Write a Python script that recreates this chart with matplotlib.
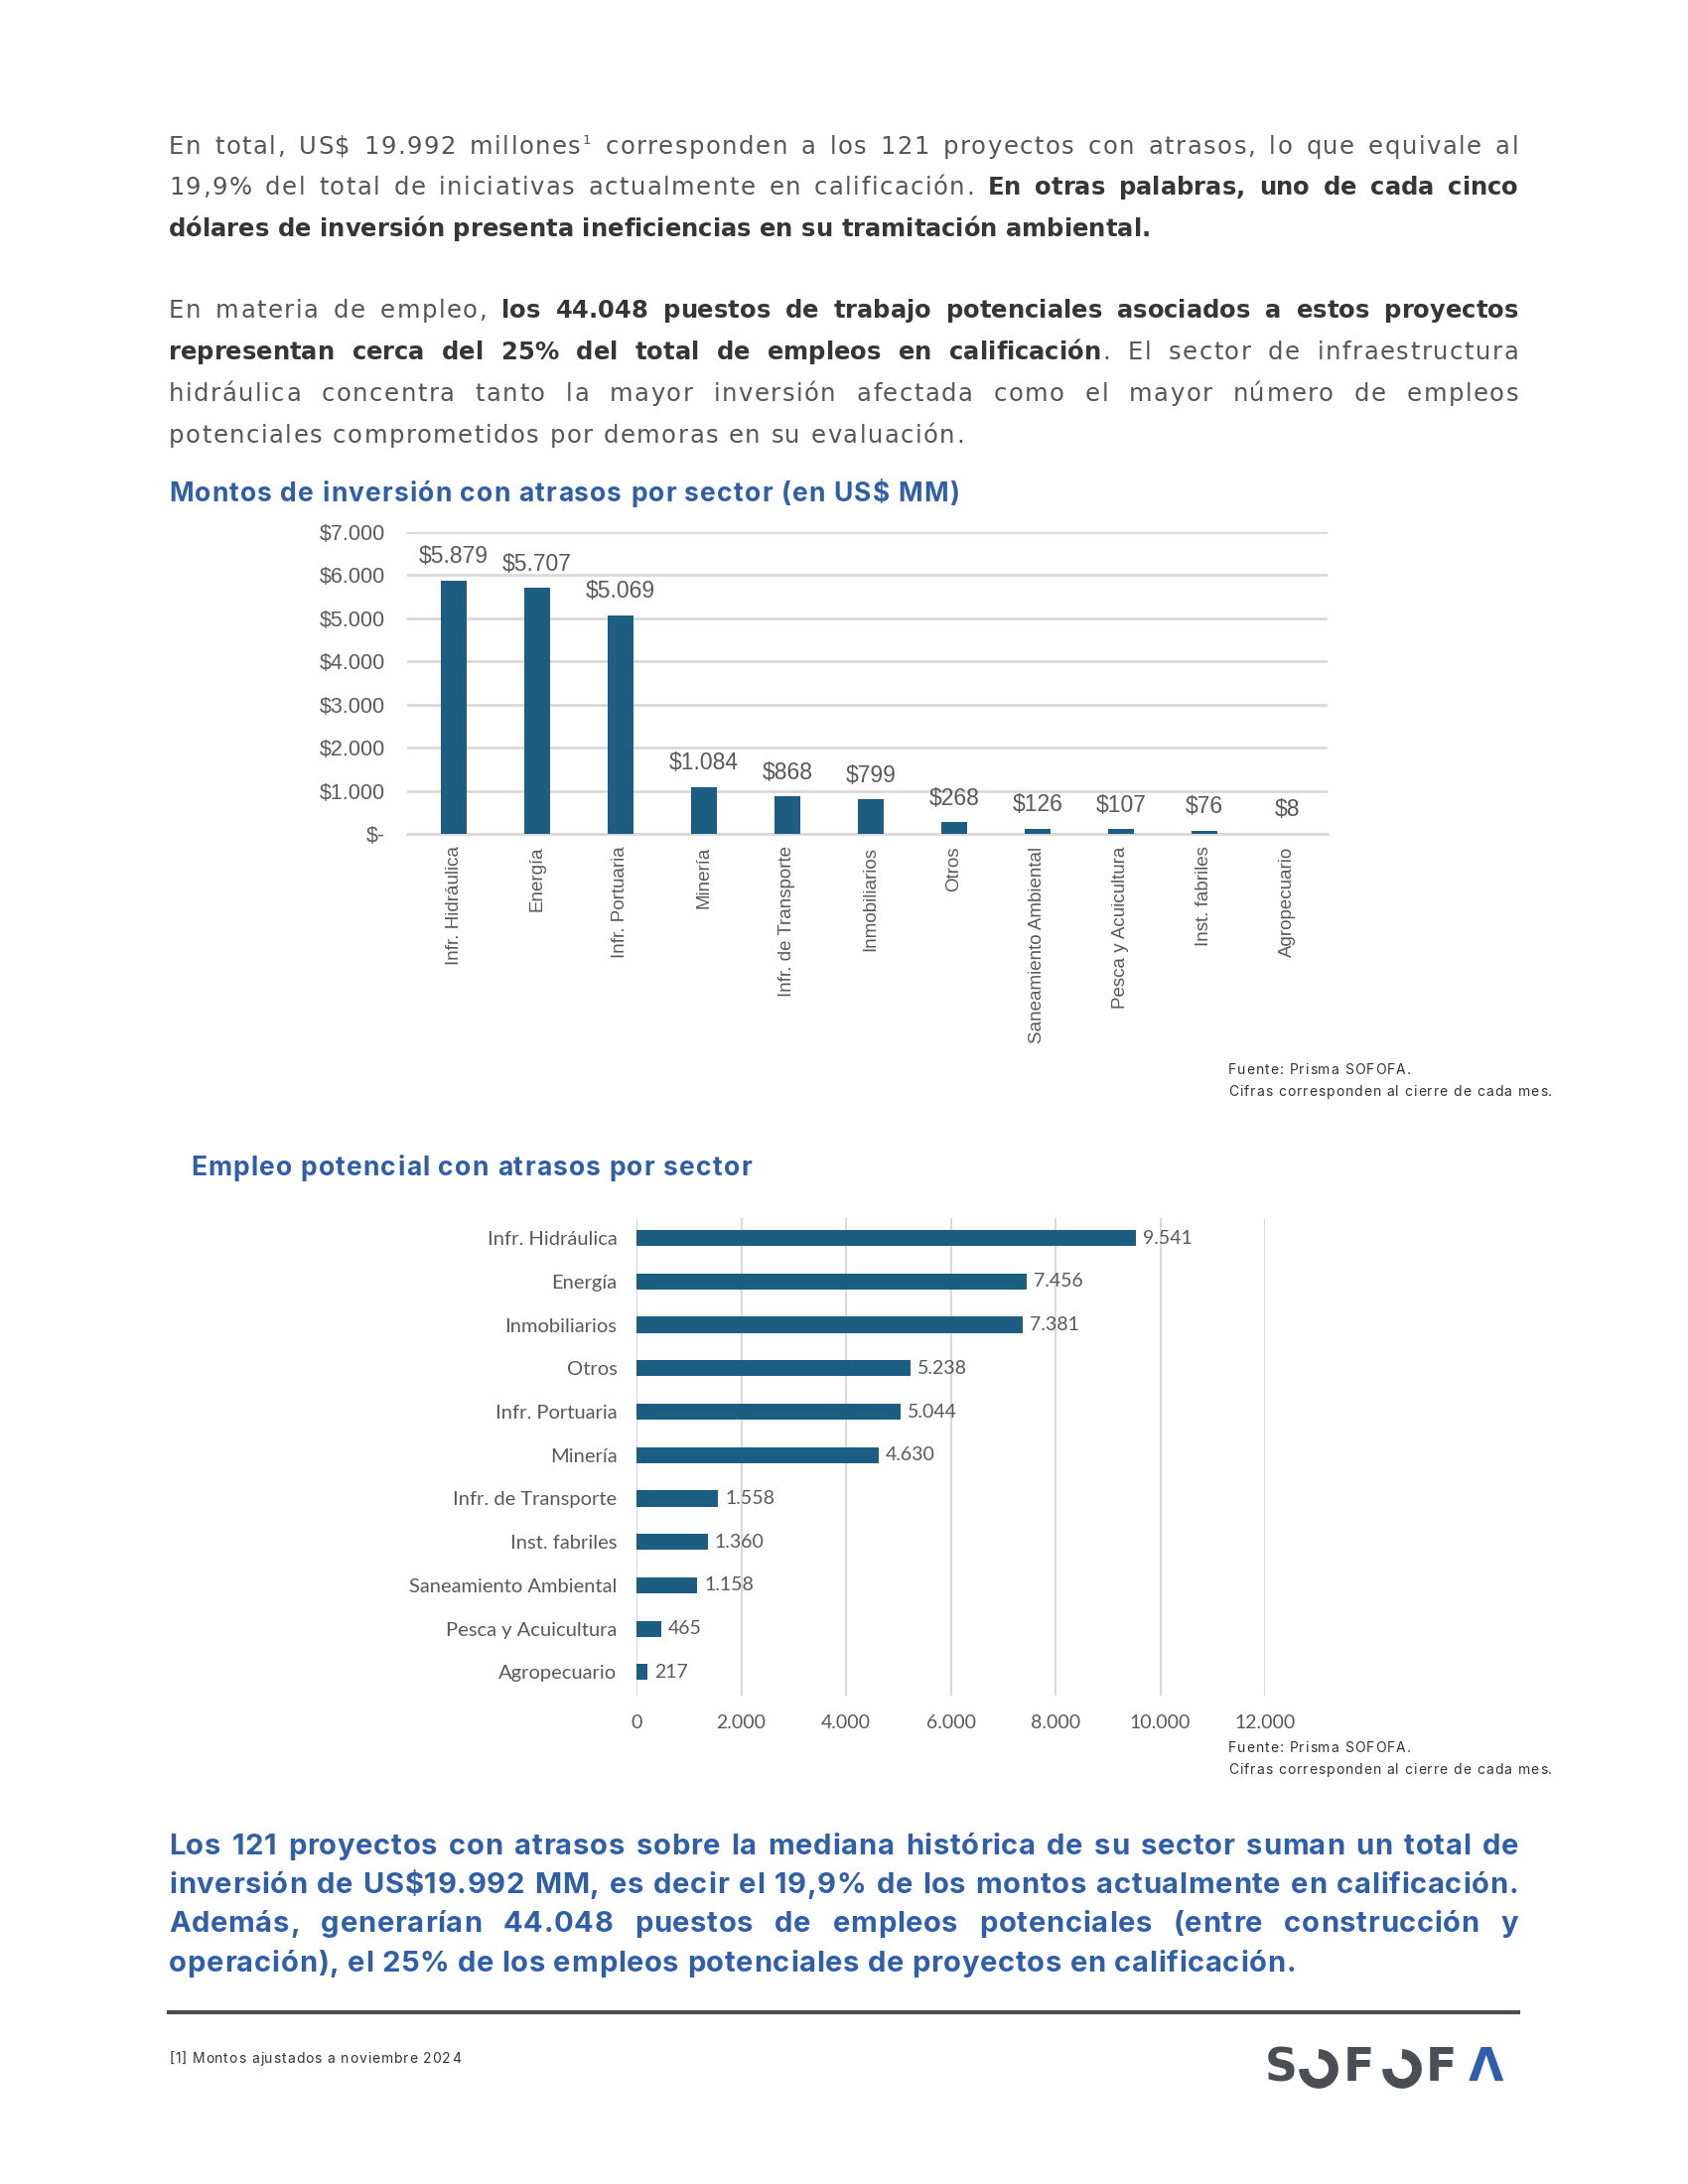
import matplotlib
matplotlib.use("Agg")
import matplotlib.pyplot as plt
from matplotlib.patches import Arc
from matplotlib.font_manager import FontProperties
from matplotlib.ticker import MultipleLocator, FuncFormatter

plt.rcParams['text.parse_math'] = False

W, H = 1700, 2200

# datos grafico 1: montos de inversion (US$ MM)
sectores_inv = ['Infr. Hidráulica', 'Energía', 'Infr. Portuaria', 'Minería',
                'Infr. de Transporte', 'Inmobiliarios', 'Otros',
                'Saneamiento Ambiental', 'Pesca y Acuicultura',
                'Inst. fabriles', 'Agropecuario']
montos_inv = [5879, 5707, 5069, 1084, 868, 799, 268, 126, 107, 76, 8]

# datos grafico 2: empleo potencial
sectores_emp = ['Infr. Hidráulica', 'Energía', 'Inmobiliarios', 'Otros',
                'Infr. Portuaria', 'Minería', 'Infr. de Transporte',
                'Inst. fabriles', 'Saneamiento Ambiental',
                'Pesca y Acuicultura', 'Agropecuario']
empleos = [9541, 7456, 7381, 5238, 5044, 4630, 1558, 1360, 1158, 465, 217]

# textos
parrafo1 = [
    [("En total, US$ 19.992 millones", 'n'), ("1", 'sup'),
     (" corresponden a los 121 proyectos con atrasos, lo que equivale al", 'n')],
    [("19,9% del total de iniciativas actualmente en calificación. ", 'n'),
     ("En otras palabras, uno de cada cinco", 'b')],
    [("dólares de inversión presenta ineficiencias en su tramitación ambiental.", 'b')],
]
parrafo2 = [
    [("En materia de empleo, ", 'n'),
     ("los 44.048 puestos de trabajo potenciales asociados a estos proyectos", 'b')],
    [("representan cerca del 25% del total de empleos en calificación", 'b'),
     (". El sector de infraestructura", 'n')],
    [("hidráulica concentra tanto la mayor inversión afectada como el mayor número de empleos", 'n')],
    [("potenciales comprometidos por demoras en su evaluación.", 'n')],
]
cierre = [
    [("Los 121 proyectos con atrasos sobre la mediana histórica de su sector suman un total de", 'b')],
    [("inversión de US$19.992 MM, es decir el 19,9% de los montos actualmente en calificación.", 'b')],
    [("Además, generarían 44.048 puestos de empleos potenciales (entre construcción y", 'b')],
    [("operación), el 25% de los empleos potenciales de proyectos en calificación.", 'b')],
]
titulo1 = 'Montos de inversión con atrasos por sector (en US$ MM)'
titulo2 = 'Empleo potencial con atrasos por sector'
fuente = ['Fuente: Prisma SOFOFA.', 'Cifras corresponden al cierre de cada mes.']
nota = '[1] Montos ajustados a noviembre 2024'

AZUL = '#2f5eaa'
BARRA = '#1b5e82'
GRIS = '#595959'
CUERPO = 'DejaVu Sans'
TITULOS = 'Inter'

fig = plt.figure(figsize=(17, 22), dpi=100)
renderer = fig.canvas.get_renderer()


def fx(x):
    return x / W


def fy(y):
    return 1 - y / H


def prop(size, bold=False, family=CUERPO):
    return FontProperties(family=family, size=size,
                          weight='bold' if bold else 'normal')


def ancho(s, p):
    return renderer.get_text_width_height_descent(s, p, ismath=False)[0]


def trazar(x, base, s, p, color, track):
    # letra a letra, con espacio extra entre letras
    for i, c in enumerate(s):
        if c == ' ':
            continue
        xi = ancho(s[:i + 1], p) - ancho(c, p) + i * track
        fig.text(fx(x + xi), fy(base), c, fontproperties=p, color=color,
                 va='baseline', ha='left')
    return ancho(s, p) + (len(s) - 1) * track


def base_de(yc, size):
    return yc + 0.37 * size * 100 / 72


def palabras(segs):
    out = []
    pegar = False
    for txt, st in segs:
        if st == 'sup':
            out[-1].append((txt, st))
            pegar = True
            continue
        for j, p in enumerate(txt.split(' ')):
            if p == '':
                continue
            if j == 0 and pegar and out:
                out[-1].append((p, st))
            else:
                out.append([(p, st)])
        pegar = not txt.endswith(' ')
    return out


def linea(segs, yc, size, colores, tracks, family, justificar,
          x0=170, x1=1529):
    em = size * 100 / 72
    base = base_de(yc, size)
    items = []
    for pal in palabras(segs):
        piezas = []
        w = 0
        for p, st in pal:
            if st == 'sup':
                fp = prop(size * 0.55, family=family)
                piezas.append((p, fp, colores['n'], 0, w + 2, base - 0.42 * em))
                w += 2 + ancho(p, fp)
            else:
                fp = prop(size, st == 'b', family)
                t = tracks[st]
                if w > 0:
                    w += t
                piezas.append((p, fp, colores[st], t, w, base))
                w += ancho(p, fp) + (len(p) - 1) * t
        items.append((piezas, w))
    total = sum(w for _, w in items)
    if justificar and len(items) > 1:
        gap = (x1 - x0 - total) / (len(items) - 1)
    else:
        fp = prop(size, segs[0][1] == 'b', family)
        gap = ancho('n n', fp) - ancho('nn', fp) + 2 * tracks[segs[0][1]]
    x = x0
    for piezas, w in items:
        for p, fp, col, t, off, b in piezas:
            trazar(x + off, b, p, fp, col, t)
        x += w + gap


def parrafo(lineas, y0, paso, size, colores, tracks, family):
    for k, segs in enumerate(lineas):
        linea(segs, y0 + k * paso, size, colores, tracks, family,
              k < len(lineas) - 1)


cuerpo_col = {'n': '#555555', 'b': '#363636'}
cuerpo_trk = {'n': 1.5, 'b': 0.0}
parrafo(parrafo1, 146, 41.5, 17.5, cuerpo_col, cuerpo_trk, CUERPO)
parrafo(parrafo2, 311, 42.1, 17.5, cuerpo_col, cuerpo_trk, CUERPO)

# ---- grafico 1
trazar(170, base_de(495, 19), titulo1, prop(19, True, TITULOS), AZUL, 1.2)

ax1 = fig.add_axes([fx(410), fy(840), (1337 - 410) / W, (840 - 536) / H])
x = list(range(len(montos_inv)))
ax1.bar(x, montos_inv, width=0.31, color=BARRA, zorder=3)
ax1.set_xlim(-0.56, 10.48)
ax1.set_ylim(0, 7000)
ax1.yaxis.set_major_locator(MultipleLocator(1000))
ax1.yaxis.set_major_formatter(FuncFormatter(
    lambda v, p: '$-' if v == 0 else '$' + f'{v:,.0f}'.replace(',', '.')))
ax1.grid(axis='y', color='#d9d9d9', lw=2, zorder=0)
for s in ['top', 'right', 'left']:
    ax1.spines[s].set_visible(False)
ax1.spines['bottom'].set_color('#d9d9d9')
ax1.spines['bottom'].set_linewidth(2)
ax1.set_xticks(x)
ax1.set_xticklabels(sectores_inv, rotation=90, va='top', ha='center',
                    family='Liberation Sans', fontsize=13.5, color=GRIS)
ax1.tick_params(axis='x', length=0, pad=9)
ax1.tick_params(axis='y', length=0, pad=16, labelsize=15.5, labelcolor=GRIS)
for lab in ax1.get_yticklabels():
    lab.set_family('Liberation Sans')
for i, v in enumerate(montos_inv):
    ax1.annotate('$' + f'{v:,}'.replace(',', '.'), (i, v), xytext=(0, 9),
                 textcoords='offset points', ha='center', va='bottom',
                 fontsize=16.5, color=GRIS, family='Liberation Sans')

for k, txt in enumerate(fuente):
    trazar(1237, base_de(1076 + 22 * k, 10) + 1, txt, prop(10, family=TITULOS),
           '#333333', 1.0)

# ---- grafico 2
trazar(192, base_de(1174, 19), titulo2, prop(19, True, TITULOS), AZUL, 1.25)

ax2 = fig.add_axes([fx(641), fy(1708), (1274 - 641) / W, (1708 - 1227) / H])
y = list(range(len(empleos)))
ax2.barh(y, empleos, height=0.37, color=BARRA, zorder=3)
ax2.set_xlim(0, 12000)
ax2.set_ylim(10.54, -0.46)
ax2.xaxis.set_major_locator(MultipleLocator(2000))
ax2.xaxis.set_major_formatter(FuncFormatter(
    lambda v, p: f'{v:,.0f}'.replace(',', '.')))
ax2.grid(axis='x', color='#d9d9d9', lw=1.5, zorder=0)
for s in ax2.spines.values():
    s.set_visible(False)
ax2.set_yticks(y)
ax2.set_yticklabels(sectores_emp, family='Lato', fontsize=14.5, color=GRIS)
ax2.tick_params(axis='y', length=0, pad=14)
ax2.tick_params(axis='x', length=0, pad=14, labelsize=14, labelcolor=GRIS)
for lab in ax2.get_xticklabels():
    lab.set_family('Lato')
for i, v in enumerate(empleos):
    ax2.annotate(f'{v:,}'.replace(',', '.'), (v, i), xytext=(5, 0),
                 textcoords='offset points', ha='left', va='center',
                 fontsize=14, color=GRIS, family='Lato')

for k, txt in enumerate(fuente):
    trazar(1237, base_de(1759 + 22 * k, 10) + 1, txt, prop(10, family=TITULOS),
           '#333333', 1.0)

# ---- cierre
parrafo(cierre, 1857, 39.3, 21, {'n': AZUL, 'b': AZUL},
        {'n': 0.7, 'b': 0.7}, TITULOS)

fig.add_artist(plt.Line2D([fx(170), fx(1529)], [fy(2027), fy(2027)],
                          color='#4a4d52', lw=3))
trazar(170, base_de(2072, 10) + 1, nota, prop(10, family=TITULOS), '#333333', 0.9)

# logo
LOGO = '#4b4f54'
for letra, xc in [('S', 1290), ('F', 1368), ('F', 1451)]:
    fig.text(fx(xc), fy(2084), letra, fontsize=33, fontweight='bold',
             color=LOGO, family='DejaVu Sans', ha='center', va='center')
for xc in [1328, 1412]:
    fig.add_artist(Arc((fx(xc), fy(2084)), 30 / W, 30 / H, theta1=180,
                       theta2=450, transform=fig.transFigure, color=LOGO, lw=7))
fig.text(fx(1497), fy(2084), 'Λ', fontsize=33, fontweight='bold', color=AZUL,
         family='DejaVu Sans', ha='center', va='center')

fig.savefig('out.png', dpi=100)
